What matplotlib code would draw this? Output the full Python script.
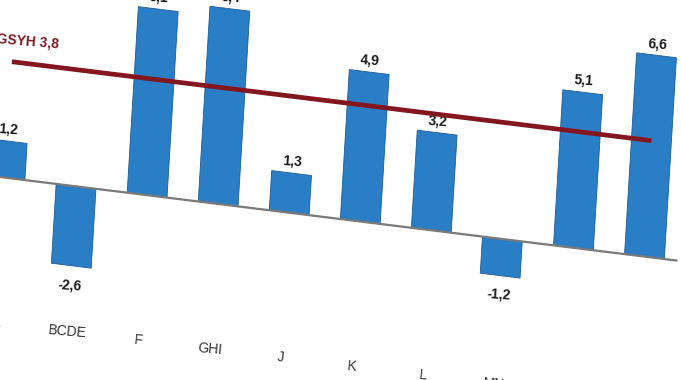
import numpy as np
import matplotlib
matplotlib.use('Agg')
import matplotlib.pyplot as plt
from matplotlib.transforms import Affine2D

#%% data
sectors = ['A', 'BCDE', 'F', 'GHI', 'J', 'K', 'L', 'MN', 'OPQ', 'RSTU']
growth = [1.2, -2.6, 6.1, 6.4, 1.3, 4.9, 3.2, -1.2, 5.1, 6.6]
gdp_growth = 3.8
gdp_label = 'GSYH 3,8'

bar_color = '#2A7EC6'
line_color = '#84161F'
font = ['Liberation Sans', 'DejaVu Sans']

#%% figure, axes placed so that one category = 71 px and one unit = 30.5 px
fig = plt.figure(figsize=(6.81, 3.80), dpi=100)
W, H = 681, 380
x0, dx = 5, 71.05
y0, dy = 202.4, 30.5
xl, yl = (-1, 10), (-6, 8)
ax = fig.add_axes([(x0 + xl[0]*dx)/W, (y0 + yl[0]*dy)/H,
                   (xl[1]-xl[0])*dx/W, (yl[1]-yl[0])*dy/H])
ax.set_xlim(*xl)
ax.set_ylim(*yl)
ax.axis('off')

# the photo is slanted: shear the whole chart about the first bar foot
skew = Affine2D().translate(-x0, -y0).skew(np.arctan(0.06), np.arctan(-0.1235)).translate(x0, y0)
tr = ax.transData + skew

u = np.arange(len(sectors))
ax.bar(u, growth, width=0.56, color=bar_color, edgecolor='#1d5d98', lw=0.6,
       transform=tr, clip_on=False, zorder=2)
ax.plot([-0.7, 9.45], [0, 0], color='#7a7a7a', lw=1.6, transform=tr, clip_on=False, zorder=3)
ax.plot([0, len(sectors)-1], [gdp_growth, gdp_growth], color=line_color, lw=3.4,
        solid_capstyle='butt', transform=tr, clip_on=False, zorder=4)

ax.text(-0.24, gdp_growth + 0.45, gdp_label, color='#7a1c24', fontsize=10, fontweight='bold',
        family=font, ha='left', va='bottom', rotation=-5, rotation_mode='anchor',
        transform=tr, clip_on=False)

for i, v in enumerate(growth):
    lab = f'{v:.1f}'.replace('.', ',')
    if v >= 0:
        ax.text(i, v + 0.15, lab, ha='center', va='bottom', fontsize=10, fontweight='bold',
                family=font, color='#1a1a1a', rotation=-4, rotation_mode='anchor',
                transform=tr, clip_on=False)
    else:
        ax.text(i, v - 0.4, lab, ha='center', va='top', fontsize=10, fontweight='bold',
                family=font, color='#1a1a1a', rotation=-4, rotation_mode='anchor',
                transform=tr, clip_on=False)
    ax.text(i, -4.75, sectors[i], ha='center', va='center', fontsize=10,
            family=font, color='#333333', rotation=-5, rotation_mode='anchor',
            transform=tr, clip_on=False)

fig.savefig('out.png', dpi=100)
